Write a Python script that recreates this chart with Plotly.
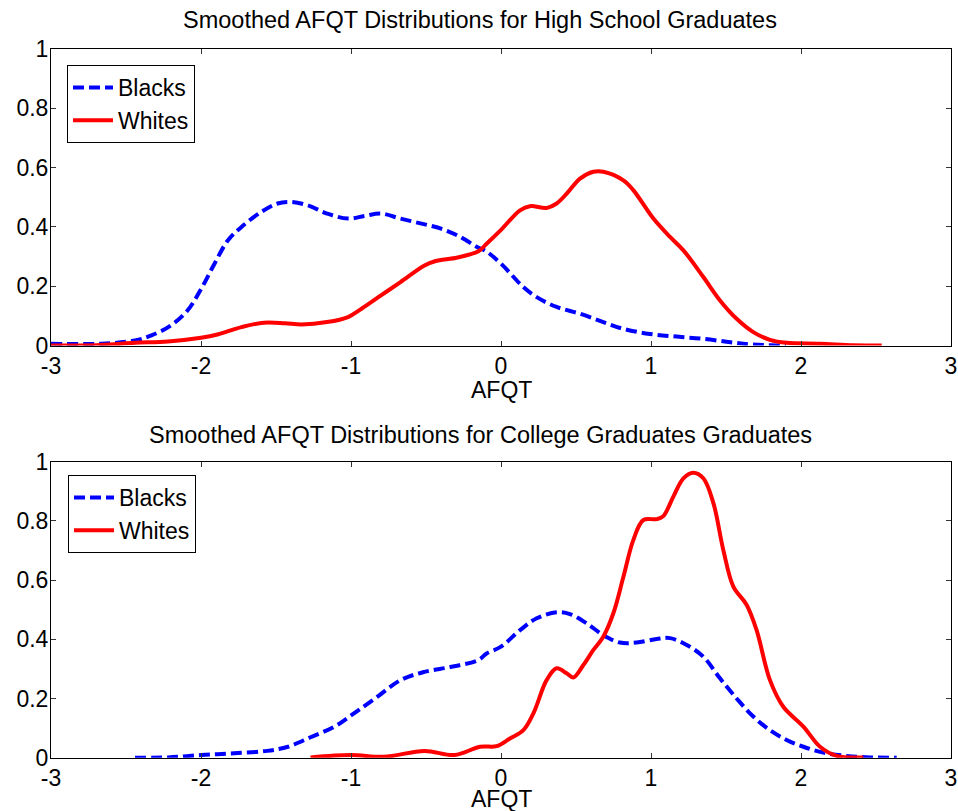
import plotly.graph_objects as go

# ---- Data ----
hs_black_x = [-3.0, -2.67, -2.44, -2.33, -2.2, -2.09, -2.0, -1.91, -1.82, -1.73, -1.6, -1.49, -1.4,
              -1.29, -1.16, -1.02, -0.91, -0.8, -0.67, -0.53, -0.4, -0.27, -0.16, -0.1, 0.0, 0.149,
              0.238, 0.371, 0.527, 0.682, 0.816, 0.993, 1.17, 1.35, 1.53, 1.68, 1.9]
hs_black_y = [0.006, 0.006, 0.017, 0.034, 0.068, 0.118, 0.19, 0.276, 0.355, 0.40, 0.45, 0.479, 0.484,
              0.473, 0.445, 0.428, 0.437, 0.445, 0.428, 0.411, 0.394, 0.366, 0.332, 0.318, 0.276, 0.197,
              0.163, 0.13, 0.107, 0.079, 0.056, 0.039, 0.030, 0.0225, 0.011, 0.003, 0.0]

hs_white_x = [-3.0, -2.67, -2.44, -2.22, -2.0, -1.89, -1.73, -1.58, -1.44, -1.33, -1.16, -1.02, -0.93,
              -0.8, -0.67, -0.51, -0.44, -0.29, -0.15, -0.096, 0.0, 0.127, 0.193, 0.304, 0.371, 0.438,
              0.527, 0.616, 0.682, 0.816, 0.882, 1.016, 1.127, 1.216, 1.349, 1.46, 1.571, 1.682,
              1.793, 1.904, 2.127, 2.349, 2.538]
hs_white_y = [0.0, 0.002, 0.009, 0.0135, 0.026, 0.037, 0.062, 0.077, 0.075, 0.071, 0.079, 0.096, 0.124,
              0.169, 0.214, 0.27, 0.284, 0.297, 0.318, 0.343, 0.39, 0.456, 0.47, 0.464, 0.479, 0.512,
              0.563, 0.586, 0.586, 0.557, 0.524, 0.428, 0.366, 0.321, 0.231, 0.152, 0.09, 0.045,
              0.019, 0.009, 0.006, 0.001, 0.0]

cg_black_x = [-2.44, -2.22, -2.0, -1.78, -1.56, -1.42, -1.27, -1.11, -0.98, -0.84, -0.67, -0.51, -0.33,
              -0.15, -0.096, 0.0, 0.127, 0.238, 0.371, 0.46, 0.571, 0.682, 0.793, 0.904, 1.038, 1.127,
              1.238, 1.349, 1.46, 1.571, 1.682, 1.793, 1.904, 2.016, 2.149, 2.304, 2.46, 2.638]
cg_black_y = [0.0, 0.001, 0.009, 0.015, 0.023, 0.037, 0.069, 0.105, 0.15, 0.20, 0.262, 0.29, 0.307,
              0.33, 0.352, 0.375, 0.431, 0.471, 0.491, 0.485, 0.454, 0.414, 0.389, 0.389, 0.401, 0.404,
              0.381, 0.341, 0.268, 0.20, 0.139, 0.093, 0.06, 0.037, 0.017, 0.006, 0.001, 0.0]

cg_white_x = [-1.27, -1.0, -0.78, -0.51, -0.31, -0.14, -0.03, 0.06, 0.149, 0.216, 0.304, 0.371, 0.438,
              0.482, 0.549, 0.616, 0.682, 0.749, 0.816, 0.882, 0.949, 1.038, 1.082, 1.149, 1.216,
              1.282, 1.349, 1.416, 1.482, 1.549, 1.638, 1.704, 1.793, 1.882, 2.016, 2.127, 2.238, 2.416]
cg_white_y = [0.001, 0.009, 0.003, 0.023, 0.009, 0.037, 0.039, 0.065, 0.093, 0.15, 0.262, 0.302, 0.285,
              0.271, 0.313, 0.364, 0.409, 0.488, 0.611, 0.735, 0.803, 0.806, 0.816, 0.882, 0.944,
              0.963, 0.944, 0.86, 0.702, 0.578, 0.516, 0.431, 0.262, 0.172, 0.105, 0.037, 0.006, 0.001]

x_ticks = [-3, -2, -1, 0, 1, 2, 3]
x_tick_labels = ["-3", "-2", "-1", "0", "1", "2", "3"]
y_ticks = [0, 0.2, 0.4, 0.6, 0.8, 1]
y_tick_labels = ["0", "0.2", "0.4", "0.6", "0.8", "1"]
titles = ["Smoothed AFQT Distributions for High School Graduates",
          "Smoothed AFQT Distributions for College Graduates Graduates"]
xlabel = "AFQT"

FONT = "Liberation Sans, Arial, sans-serif"
BLUE = "#0000ff"
RED = "#ff0000"
DASH = "11px,5px"

fig = go.Figure()
fig.add_trace(go.Scatter(x=hs_black_x, y=hs_black_y, mode="lines", name="Blacks",
                         line=dict(color=BLUE, width=4, dash=DASH, shape="spline"),
                         xaxis="x", yaxis="y", legend="legend"))
fig.add_trace(go.Scatter(x=hs_white_x, y=hs_white_y, mode="lines", name="Whites",
                         line=dict(color=RED, width=4, shape="spline"),
                         xaxis="x", yaxis="y", legend="legend"))
fig.add_trace(go.Scatter(x=cg_black_x, y=cg_black_y, mode="lines", name="Blacks",
                         line=dict(color=BLUE, width=4, dash=DASH, shape="spline"),
                         xaxis="x2", yaxis="y2", legend="legend2"))
fig.add_trace(go.Scatter(x=cg_white_x, y=cg_white_y, mode="lines", name="Whites",
                         line=dict(color=RED, width=4, shape="spline"),
                         xaxis="x2", yaxis="y2", legend="legend2"))

W, H = 958, 811
axis_common = dict(showgrid=False, zeroline=False, showline=True, mirror="allticks",
                   linecolor="black", linewidth=1, ticks="inside", ticklen=5, tickcolor="#333",
                   automargin=False,
                   tickfont=dict(family=FONT, size=23, color="black"))

top_dom = [1 - 345.5 / H, 1 - 49 / H]
bot_dom = [1 - 757.7 / H, 1 - 461.7 / H]

legend_common = dict(xanchor="left", yanchor="top", bordercolor="black", borderwidth=1,
                     bgcolor="white", font=dict(family=FONT, size=23, color="black"),
                     itemwidth=40, tracegroupgap=0)

fig.update_layout(
    width=W, height=H,
    margin=dict(l=51, r=7, t=0, b=0, pad=0, autoexpand=False),
    paper_bgcolor="white", plot_bgcolor="white",
    font=dict(family=FONT, color="black"),
    xaxis=dict(domain=[0, 1], range=[-3, 3], tickvals=x_ticks, ticktext=x_tick_labels, anchor="y", **axis_common),
    yaxis=dict(domain=top_dom, range=[0, 1], tickvals=y_ticks, ticktext=y_tick_labels, anchor="x",
               ticklabelstandoff=-3, **axis_common),
    xaxis2=dict(domain=[0, 1], range=[-3, 3], tickvals=x_ticks, ticktext=x_tick_labels, anchor="y2", **axis_common),
    yaxis2=dict(domain=bot_dom, range=[0, 1], tickvals=y_ticks, ticktext=y_tick_labels, anchor="x2",
                ticklabelstandoff=-3, **axis_common),
    legend=dict(x=(67 - 51) / 900, y=1 - 65 / H, **legend_common),
    legend2=dict(x=(68 - 51) / 900, y=1 - 475 / H, **legend_common),
    annotations=[
        dict(text=titles[0], x=(480 - 51) / 900, y=1 - 20 / H, xref="paper", yref="paper",
             showarrow=False, font=dict(family=FONT, size=23.5), xanchor="center", yanchor="middle"),
        dict(text=titles[1], x=(480 - 51) / 900, y=1 - 435 / H, xref="paper", yref="paper",
             showarrow=False, font=dict(family=FONT, size=23.5), xanchor="center", yanchor="middle"),
        dict(text=xlabel, x=0.5, y=1 - 390 / H, xref="paper", yref="paper",
             showarrow=False, font=dict(family=FONT, size=23), xanchor="center", yanchor="middle"),
        dict(text=xlabel, x=0.5, y=1 - 799 / H, xref="paper", yref="paper",
             showarrow=False, font=dict(family=FONT, size=23), xanchor="center", yanchor="middle"),
    ],
)

fig.write_html("out.html", config={"displayModeBar": False},
               post_script="document.body.style.margin='0';")
